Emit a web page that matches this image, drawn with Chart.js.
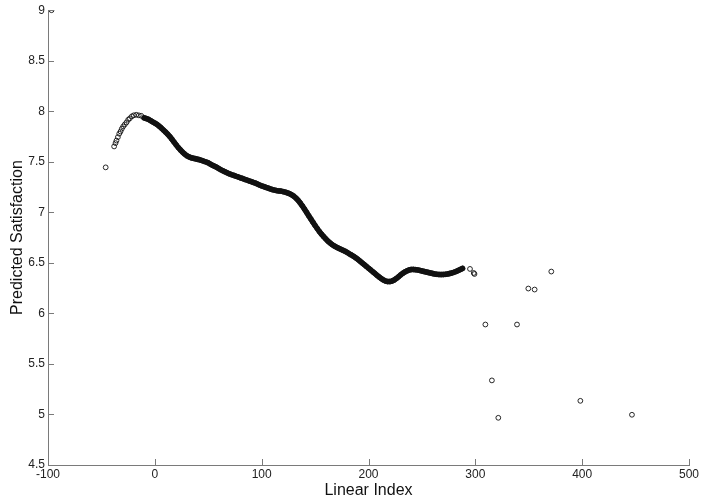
<!DOCTYPE html>
<html>
<head>
<meta charset="utf-8">
<script src="https://cdn.jsdelivr.net/npm/chart.js@4"></script>
<style>
  html, body { margin: 0; padding: 0; background: #fff; }
  #wrap { width: 702px; height: 501px; position: relative; }
</style>
</head>
<body>
<div id="wrap"><canvas id="chart"></canvas></div>
<script>
'use strict';

// x/y ranges and ticks
const xTicks = [-100, 0, 100, 200, 300, 400, 500];
const yTicks = [4.5, 5, 5.5, 6, 6.5, 7, 7.5, 8, 8.5, 9];

// sparse points at the start of the curve
const headPoints = [
  [-96.7, 9.0], [-46, 7.445], [-38.1, 7.652], [-36.8, 7.685], [-35.9, 7.71],
  [-34.6, 7.744], [-33.3, 7.778], [-32.1, 7.8], [-30.9, 7.827], [-29.6, 7.85],
  [-28.1, 7.87], [-26.5, 7.89], [-24.9, 7.916], [-23.4, 7.93], [-21.5, 7.95],
  [-19.7, 7.96], [-17.4, 7.965], [-15, 7.96], [-12.7, 7.955]
];

// dense part of the curve
const curvePoints = [
  [-10, 7.935], [-8, 7.928], [-6, 7.92], [-4, 7.908], [-2, 7.895], [0, 7.883],
  [2, 7.87], [4, 7.853], [6, 7.835], [8, 7.815], [10, 7.795], [12, 7.773],
  [14, 7.75], [16, 7.723], [18, 7.695], [20, 7.667], [22, 7.64], [24, 7.617],
  [26, 7.595], [28, 7.576], [30, 7.56], [32, 7.549], [34, 7.54], [36, 7.535],
  [38, 7.53], [40, 7.525], [42, 7.52], [44, 7.513], [46, 7.505], [48, 7.498],
  [50, 7.49], [52, 7.477], [54, 7.465], [56, 7.455], [58, 7.445], [60, 7.432],
  [62, 7.42], [64, 7.41], [66, 7.4], [68, 7.39], [70, 7.38], [72, 7.372],
  [74, 7.365], [76, 7.357], [78, 7.35], [80, 7.342], [82, 7.335], [84, 7.327],
  [86, 7.32], [88, 7.312], [90, 7.305], [92, 7.297], [94, 7.29], [96, 7.28],
  [98, 7.27], [100, 7.262], [102, 7.255], [104, 7.247], [106, 7.24], [108, 7.232],
  [110, 7.225], [112, 7.22], [114, 7.215], [116, 7.212], [118, 7.21], [120, 7.205],
  [122, 7.2], [124, 7.193], [126, 7.185], [128, 7.174], [130, 7.16], [132, 7.142],
  [134, 7.12], [136, 7.094], [138, 7.065], [140, 7.033], [142, 7.0], [144, 6.967],
  [146, 6.935], [148, 6.902], [150, 6.87], [152, 6.84], [154, 6.81], [156, 6.784],
  [158, 6.76], [160, 6.737], [162, 6.715], [164, 6.697], [166, 6.68], [168, 6.667],
  [170, 6.655], [172, 6.645], [174, 6.635], [176, 6.625], [178, 6.615], [180, 6.603],
  [182, 6.59], [184, 6.578], [186, 6.565], [188, 6.55], [190, 6.535], [192, 6.518],
  [194, 6.5], [196, 6.483], [198, 6.465], [200, 6.447], [202, 6.43], [204, 6.412],
  [206, 6.395], [208, 6.377], [210, 6.36], [212, 6.344], [214, 6.33], [216, 6.32],
  [218, 6.315], [220, 6.315], [222, 6.32], [224, 6.33], [226, 6.345], [228, 6.362],
  [230, 6.38], [232, 6.396], [234, 6.41], [236, 6.421], [238, 6.43], [240, 6.434],
  [242, 6.435], [244, 6.433], [246, 6.43], [248, 6.425], [250, 6.42], [252, 6.415],
  [254, 6.41], [256, 6.405], [258, 6.4], [260, 6.395], [262, 6.39], [264, 6.387],
  [266, 6.385], [268, 6.384], [270, 6.385], [272, 6.387], [274, 6.39], [276, 6.395],
  [278, 6.4], [280, 6.407], [282, 6.415], [284, 6.425], [286, 6.435], [288, 6.445]
];

// scattered points after the curve
const tailPoints = [
  [295, 6.44], [298.5, 6.4], [299.2, 6.39], [309.4, 5.89], [315.5, 5.337],
  [321.5, 4.967], [339, 5.89], [349.6, 6.246], [355.5, 6.236], [371.1, 6.414],
  [398.3, 5.135], [446.6, 4.997]
];

const toXY = arr => arr.map(p => ({ x: p[0], y: p[1] }));
const allPoints = toXY(headPoints.concat(curvePoints, tailPoints));

// short inward tick marks, like the original plot
const innerTicks = {
  id: 'innerTicks',
  afterDraw(chart) {
    const ctx = chart.ctx;
    const xs = chart.scales.x;
    const ys = chart.scales.y;
    const area = chart.chartArea;
    ctx.save();
    ctx.strokeStyle = '#7a7a7a';
    ctx.lineWidth = 1;
    ctx.beginPath();
    xTicks.forEach(v => {
      const px = Math.round(xs.getPixelForValue(v)) + 0.5;
      ctx.moveTo(px, area.bottom);
      ctx.lineTo(px, area.bottom - 6);
    });
    yTicks.forEach(v => {
      const py = Math.round(ys.getPixelForValue(v)) + 0.5;
      ctx.moveTo(area.left, py);
      ctx.lineTo(area.left + 6, py);
    });
    ctx.stroke();
    ctx.restore();
  }
};

const font = 'Arial, "Liberation Sans", sans-serif';

new Chart(document.getElementById('chart'), {
  type: 'scatter',
  data: {
    datasets: [{
      // the dense run of markers merges into a thick band
      data: toXY(curvePoints),
      showLine: true,
      borderColor: '#111',
      borderWidth: 5.5,
      borderCapStyle: 'round',
      borderJoinStyle: 'round',
      pointRadius: 0,
      pointHoverRadius: 0
    }, {
      data: allPoints,
      pointRadius: 2.4,
      pointBorderWidth: 0.9,
      pointBorderColor: '#111',
      pointBackgroundColor: 'rgba(0,0,0,0)',
      pointHoverRadius: 2.4
    }]
  },
  options: {
    responsive: true,
    maintainAspectRatio: false,
    animation: false,
    events: [],
    layout: { padding: { left: 0, top: 9, right: 13, bottom: 0 } },
    plugins: { legend: { display: false }, tooltip: { enabled: false } },
    scales: {
      x: {
        type: 'linear',
        min: -100,
        max: 500,
        afterBuildTicks: s => { s.ticks = xTicks.map(v => ({ value: v })); },
        afterFit: s => { s.height = 36; },
        grid: { display: false, drawTicks: false },
        border: { display: true, color: '#7a7a7a', width: 1 },
        ticks: {
          color: '#222',
          padding: 2,
          maxRotation: 0,
          callback: v => String(v),
          font: { family: font, size: 12 }
        },
        title: {
          display: true,
          text: 'Linear Index',
          color: '#111',
          padding: { top: 0, bottom: 1 },
          font: { family: font, size: 16 }
        }
      },
      y: {
        type: 'linear',
        min: 4.5,
        max: 9,
        afterBuildTicks: s => { s.ticks = yTicks.map(v => ({ value: v })); },
        afterFit: s => { s.width = 48; },
        grid: { display: false, drawTicks: false },
        border: { display: true, color: '#7a7a7a', width: 1 },
        ticks: {
          color: '#222',
          padding: 3,
          callback: v => String(v),
          font: { family: font, size: 12 }
        },
        title: {
          display: true,
          text: 'Predicted Satisfaction',
          color: '#111',
          padding: { top: 8, bottom: 0 },
          font: { family: font, size: 16 }
        }
      }
    }
  },
  plugins: [innerTicks]
});
</script>
</body>
</html>
